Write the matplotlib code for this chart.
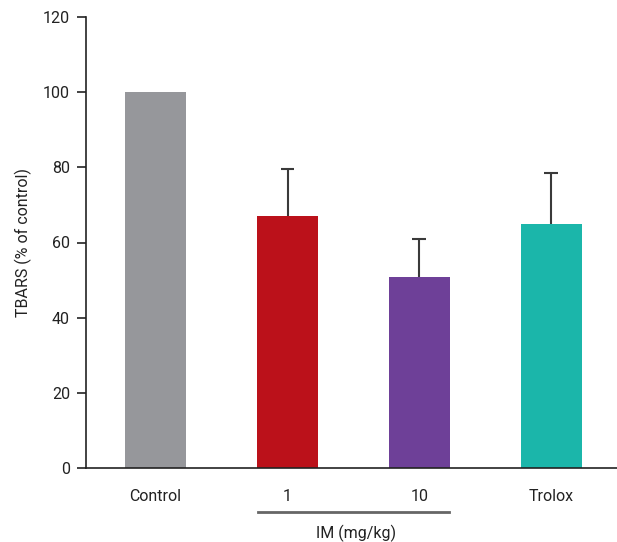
import matplotlib
matplotlib.use("Agg")
import matplotlib.pyplot as plt
import matplotlib.transforms as mtransforms

categories = ["Control", "1", "10", "Trolox"]
values = [100, 67, 50.7, 65]
errors = [0, 12.6, 10.1, 13.5]
colors = ["#96979b", "#bb111a", "#6e4098", "#1bb6aa"]
yticks = [0, 20, 40, 60, 80, 100, 120]

plt.rcParams['font.family'] = ['Roboto', 'DejaVu Sans']

fig = plt.figure(figsize=(6.17, 5.42), dpi=100)
ax = fig.add_axes([86/617, (542-468)/542, 1 - 86/617, (468-17)/542])

x = list(range(len(categories)))
ax.bar(x, values, width=0.462, color=colors, zorder=2)
cap_half = 0.053
for xi, v, e in zip(x, values, errors):
    if e > 0:
        ax.vlines(xi, v, v + e, color='#3a3a3a', lw=1.5, zorder=1)
        ax.hlines(v + e, xi - cap_half, xi + cap_half, color='#3a3a3a', lw=1.5, zorder=1)

ax.set_xlim(-0.527, 3.497)
ax.set_ylim(0, 120)
ax.set_yticks(yticks)
ax.set_xticks(x)
ax.set_xticklabels(categories)
ax.spines['top'].set_visible(False)
ax.spines['right'].set_visible(False)
for s in ['left', 'bottom']:
    ax.spines[s].set_linewidth(1.2)
    ax.spines[s].set_color('#222222')
ax.tick_params(axis='y', length=6.5, width=1.2, pad=5, labelsize=11.5, colors='#222222')
ax.tick_params(axis='x', length=0, pad=15, labelsize=11.5, colors='#222222')
ax.set_ylabel("TBARS (% of control)", fontsize=11.5, color='#222222', labelpad=8)

trans = mtransforms.blended_transform_factory(ax.transData, ax.transAxes)
ax.plot([0.78, 2.225], [-0.0976, -0.0976], transform=trans, color='#666666',
        lw=2, clip_on=False)
ax.text(1.52, -0.144, "IM (mg/kg)", transform=trans, ha='center', va='center',
        fontsize=11.5, color='#222222')

fig.savefig("out.png", dpi=100)
